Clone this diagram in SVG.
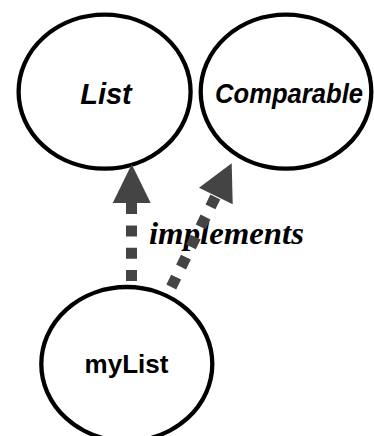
<svg xmlns="http://www.w3.org/2000/svg" width="374" height="436" viewBox="0 0 374 436">
<defs>
<style>
.node{fill:#fff;stroke:#000;stroke-width:4.3}
.lbl{font-family:"Liberation Sans",Arial,sans-serif;font-weight:bold;fill:#000;text-anchor:middle}
.it{font-style:italic}
.edge{stroke:#444;stroke-width:11;fill:none;stroke-dasharray:11 11.3}
.head{fill:#444}
.elbl{font-family:"Liberation Serif","Times New Roman",serif;font-weight:bold;font-style:italic;fill:#000;text-anchor:middle}
</style>
</defs>
<rect width="374" height="436" fill="#fff"/>
<g id="List">
<ellipse class="node" cx="104.6" cy="91.7" rx="86" ry="77"/>
<text class="lbl it" x="106" y="104" font-size="29">List</text>
</g>
<g id="Comparable">
<ellipse class="node" cx="286" cy="91.7" rx="85.3" ry="77"/>
<text class="lbl it" x="289" y="103" font-size="27" textLength="148" lengthAdjust="spacingAndGlyphs">Comparable</text>
</g>
<g id="myList">
<ellipse class="node" cx="126.8" cy="364" rx="85.5" ry="77"/>
<text class="lbl" x="126.5" y="373" font-size="26">myList</text>
</g>
<g id="connectors">
<text class="elbl" x="226.5" y="244" font-size="31" textLength="155" lengthAdjust="spacingAndGlyphs">implements</text>
<line class="edge" x1="131.5" y1="281" x2="131.5" y2="202"/>
<polygon class="head" points="131.7,164.3 112.7,203 150.7,203"/>
<line class="edge" x1="171.3" y1="287" x2="215.8" y2="196"/>
<polygon class="head" points="231.7,163.3 199,187.7 232.7,204.3"/>
</g>
</svg>
